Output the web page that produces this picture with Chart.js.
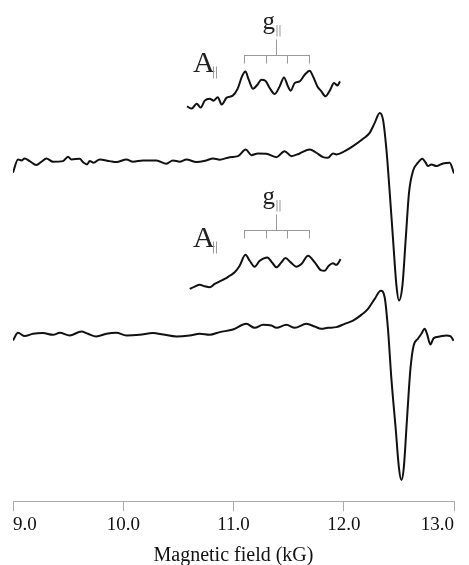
<!DOCTYPE html>
<html>
<head>
<meta charset="utf-8">
<title>EPR spectra</title>
<script src="https://cdn.jsdelivr.net/npm/chart.js@4.4.1/dist/chart.umd.min.js"></script>
<style>
  html, body { margin: 0; padding: 0; background: #fff; }
  #wrap { width: 469px; height: 565px; position: relative; }
</style>
</head>
<body>
<div id="wrap"><canvas id="eprChart"></canvas></div>
<script>
// ===== data (field in kG, intensity in arbitrary units) =====
const fieldTicks = [9.0, 10.0, 11.0, 12.0, 13.0];

// top spectrum
const fieldTop = [9.000, 9.045, 9.076, 9.106, 9.151, 9.212, 9.258, 9.303, 9.363, 9.454, 9.499, 9.530, 9.605, 9.635, 9.671, 9.696, 9.732, 9.786, 9.877, 9.938,
  10.029, 10.088, 10.179, 10.301, 10.391, 10.451, 10.512, 10.573, 10.663, 10.754, 10.814, 10.875, 10.966, 11.041, 11.111, 11.162, 11.222, 11.298, 11.389, 11.464,
  11.525, 11.600, 11.691, 11.752, 11.812, 11.857, 11.902, 11.933, 12.009, 12.084, 12.175, 12.235, 12.281, 12.326, 12.356, 12.387, 12.417, 12.447, 12.478, 12.501,
  12.532, 12.562, 12.592, 12.628, 12.673, 12.713, 12.743, 12.764, 12.795, 12.840, 12.900, 12.961, 13.000];
const signalTop = [-12.3, 1, 0, 2, -0.7, -4.7, -1.3, 2, -1.3, -0.7, 3.7, 1, 1.7, -1.7, -4, -0.7, -2.3, 1, -0.7, -1.7,
  1, -1.3, 0, 0, -3.3, 0, -1.3, 1, -1.7, 0, 2, 0.7, 3.3, 4.3, 11, 5.3, 7, 6.7, 3.3, 9.3,
  4.3, 7, 11, 7.7, 3.3, 2.7, 7, 6, 9.3, 14.3, 21.7, 27.7, 37.7, 47.7, 41, 11, -32.3, -79, -125.7, -140.7,
  -125.7, -79, -32.3, -10.7, -2.3, 1.7, -2.3, -5.7, -4, -5.7, -3, -2.3, -13];

// bottom spectrum
const fieldBottom = [9.000, 9.045, 9.106, 9.181, 9.272, 9.363, 9.424, 9.514, 9.620, 9.680, 9.756, 9.847, 9.938, 10.029, 10.149, 10.270, 10.361, 10.482, 10.603, 10.693,
  10.784, 10.875, 10.995, 11.117, 11.192, 11.268, 11.344, 11.389, 11.480, 11.555, 11.661, 11.737, 11.797, 11.857, 11.933, 12.009, 12.084, 12.160, 12.220, 12.281,
  12.335, 12.371, 12.401, 12.432, 12.471, 12.501, 12.523, 12.544, 12.574, 12.605, 12.634, 12.673, 12.704, 12.734, 12.755, 12.786, 12.816, 12.871, 12.931, 12.967, 12.997];
const signalBottom = [-6.7, 1, -2.3, 0, 0.7, -1, 1, -1.7, 2.3, 0, -2.7, 0, 1, -1.7, -1, 0.7, -0.7, -2.7, -1.7, 0,
  -1, 1.7, 4.3, 10, 6, 9, 8.3, 6, 9, 6, 10, 7.3, 5, 6, 6.7, 10, 13.3, 19, 25, 35,
  43.3, 36.7, 5, -45, -95, -135, -146.7, -135, -85, -35, -11.7, -5, 0, 5, 0, -10.7, -4.3, -2.7, -1.7, -2.3, -7];

// expanded g-parallel regions
const fieldInsetTop = [10.578, 10.621, 10.666, 10.703, 10.739, 10.784, 10.820, 10.857, 10.893, 10.938, 10.993, 11.038, 11.077, 11.108, 11.138, 11.177, 11.217, 11.253, 11.289,
  11.328, 11.374, 11.419, 11.458, 11.494, 11.519, 11.555, 11.600, 11.646, 11.691, 11.721, 11.761, 11.797, 11.834, 11.873, 11.912, 11.943, 11.966];
const signalInsetTop = [-6.7, -9, -4, -8, -1, 1, -1, 2.5, -5, 2, 4, 11, 23.3, 28.3, 20, 11, 15, 20, 19,
  11.7, 5.7, 13.3, 22.3, 13.3, 9, 16.7, 18.3, 25, 29, 23.3, 13.3, 8.3, 3.3, 9, 16.7, 14.3, 18.3];

const fieldInsetBottom = [10.603, 10.648, 10.693, 10.739, 10.784, 10.829, 10.875, 10.920, 10.966, 11.011, 11.056, 11.108, 11.147, 11.192, 11.238, 11.307,
  11.349, 11.389, 11.434, 11.471, 11.519, 11.571, 11.616, 11.676, 11.737, 11.791, 11.827, 11.864, 11.902, 11.933, 11.972];
const signalInsetBottom = [-20, -17.7, -15.7, -17.3, -18.3, -15, -12.3, -10, -6.7, -3.3, 3.3, 14.3, 8.3, 2.3, 8.3, 11.7,
  6.7, 1.7, 6.7, 11, 6.7, 2.3, 5, 13.3, 6.7, -1, -1.7, 3.3, 5.7, 4.3, 10];

// hyperfine line positions of the g-parallel quartet (kG)
const gParLines = [11.095, 11.292, 11.489, 11.685];

// vertical stacking (baseline of each trace, a.u.)
const OFFSET_TOP = 342, OFFSET_BOTTOM = 168, OFFSET_INSET_TOP = 403, OFFSET_INSET_BOTTOM = 233;
const BRACKET_LEVELS = [448, 272];

function toPoints(xs, ys, off) {
    return xs.map((x, i) => ({ x: x, y: ys[i] + off }));
}

function traceDataset(xs, ys, off) {
    return {
        data: toPoints(xs, ys, off),
        borderColor: '#111',
        borderWidth: 2,
        pointRadius: 0,
        fill: false,
        cubicInterpolationMode: 'monotone'
    };
}

// brackets + A|| / g|| labels
const annotationPlugin = {
    id: 'gParAnnotations',
    afterDatasetsDraw(chart) {
        const ctx = chart.ctx;
        const xs = chart.scales.x, ys = chart.scales.y;
        const px = gParLines.map(v => xs.getPixelForValue(v));
        const mid = (px[0] + px[px.length - 1]) / 2;
        ctx.save();
        BRACKET_LEVELS.forEach(level => {
            const yb = Math.round(ys.getPixelForValue(level));
            ctx.strokeStyle = '#999';
            ctx.lineWidth = 1;
            ctx.beginPath();
            ctx.moveTo(px[0], yb + 0.5);
            ctx.lineTo(px[px.length - 1], yb + 0.5);
            px.forEach(p => { ctx.moveTo(Math.round(p) + 0.5, yb); ctx.lineTo(Math.round(p) + 0.5, yb + 8.5); });
            ctx.moveTo(Math.round(mid) + 0.5, yb);
            ctx.lineTo(Math.round(mid) + 0.5, yb - 15.5);
            ctx.stroke();

            ctx.fillStyle = '#222';
            ctx.textBaseline = 'alphabetic';
            ctx.textAlign = 'left';
            ctx.font = '25px "Liberation Serif"';
            ctx.fillText('g', mid - 14, yb - 26);
            ctx.font = '30px "Liberation Serif"';
            ctx.fillText('A', px[0] - 51, yb + 17);

            // subscript ||
            ctx.strokeStyle = '#999';
            ctx.beginPath();
            [[mid + 0.5, yb - 30, yb - 18.5], [px[0] - 30.5, yb + 11.5, yb + 23.5]].forEach(([x0, t, b]) => {
                ctx.moveTo(x0, t); ctx.lineTo(x0, b);
                ctx.moveTo(x0 + 3, t); ctx.lineTo(x0 + 3, b);
            });
            ctx.stroke();
        });
        ctx.restore();
    }
};

new Chart(document.getElementById('eprChart'), {
    type: 'line',
    data: {
        datasets: [
            traceDataset(fieldTop, signalTop, OFFSET_TOP),
            traceDataset(fieldBottom, signalBottom, OFFSET_BOTTOM),
            traceDataset(fieldInsetTop, signalInsetTop, OFFSET_INSET_TOP),
            traceDataset(fieldInsetBottom, signalInsetBottom, OFFSET_INSET_BOTTOM)
        ]
    },
    options: {
        responsive: true,
        maintainAspectRatio: false,
        animation: false,
        layout: { padding: { left: 13, right: 15, top: 0, bottom: 0 } },
        plugins: { legend: { display: false }, tooltip: { enabled: false } },
        scales: {
            x: {
                type: 'linear',
                min: 9,
                max: 13,
                afterBuildTicks: (axis) => { axis.ticks = fieldTicks.map(v => ({ value: v })); },
                ticks: {
                    callback: (v) => v.toFixed(1),
                    color: '#111',
                    padding: 2,
                    align: 'inner',
                    font: { family: '"Liberation Serif"', size: 19 }
                },
                grid: { display: true, drawOnChartArea: false, drawTicks: true, tickLength: 10, color: '#aaa' },
                border: { display: true, color: '#aaa', width: 1 },
                title: {
                    display: true,
                    text: 'Magnetic field (kG)',
                    color: '#111',
                    padding: { top: 6, bottom: -3 },
                    font: { family: '"Liberation Serif"', size: 20 }
                }
            },
            y: { display: false, min: 0, max: 503 }
        }
    },
    plugins: [annotationPlugin]
});
</script>
</body>
</html>
